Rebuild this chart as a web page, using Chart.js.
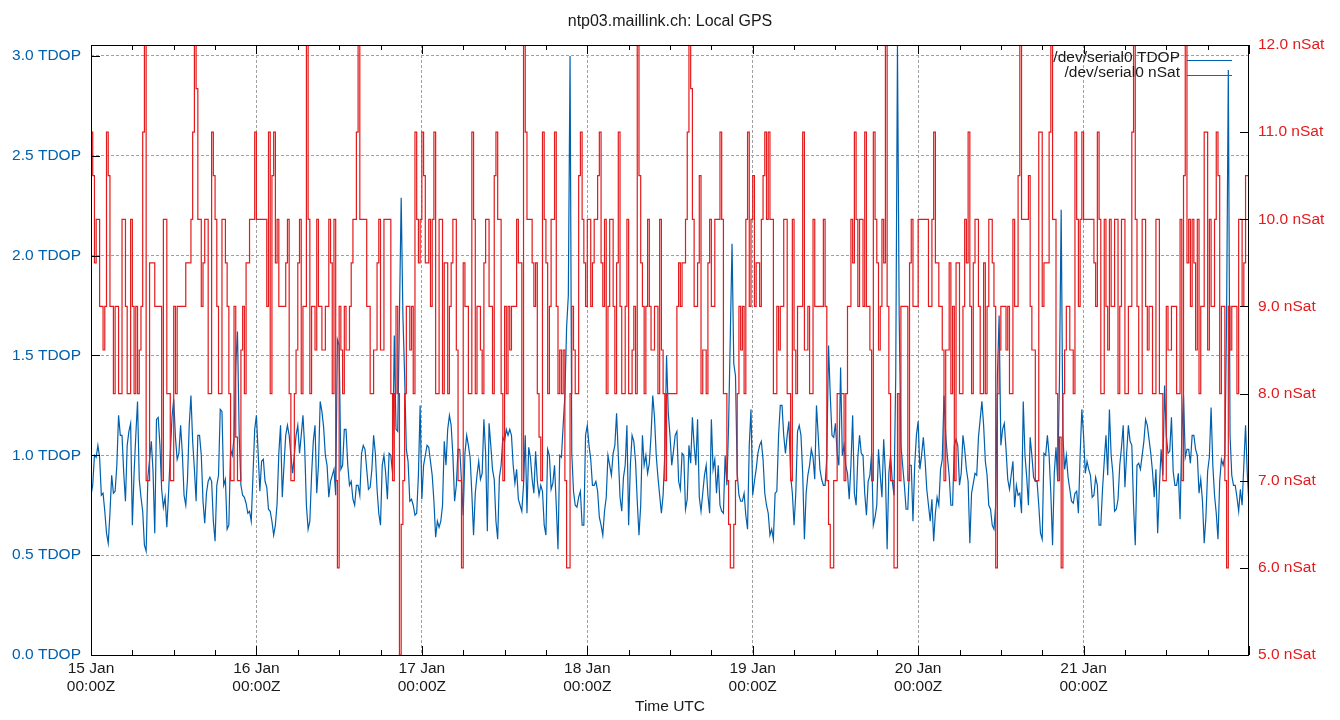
<!DOCTYPE html>
<html lang="en">
<head>
    <meta charset="UTF-8">
    <title>ntp03.maillink.ch: Local GPS</title>
    <script src="https://cdn.jsdelivr.net/npm/chart.js"></script>
    <style>
        body {
            margin: 0;
            background-color: #ffffff;
        }
        .chart-box {
            width: 1340px;
            height: 720px;
            position: relative;
        }
    </style>
</head>
<body>

<div class="chart-box">
    <canvas id="gpsChart"></canvas>
</div>

<script>
    // samples from 15 Jan 00:00Z; main arrays at :00/:30, "Quarter" arrays at :15/:45
    const stepHours = 0.5;
    const dayLabels = ["15 Jan", "16 Jan", "17 Jan", "18 Jan", "19 Jan", "20 Jan", "21 Jan"];

    const tdop = [
        0.8, 1.0, 1.05, 0.8, 0.72, 0.56, 0.9, 0.82, 1.2, 1.1, 0.77, 1.12, 0.65, 1.1, 0.88, 0.72, 0.52, 0.98, 0.92, 1.18, 1.05, 0.74, 0.64, 1.0, 1.28, 0.98, 1.15, 0.8, 0.88, 1.3, 0.93,
        1.1, 1.0, 0.66, 0.87, 0.87, 0.57, 0.9, 1.22, 0.88, 0.65, 1.0, 1.45, 1.1, 0.8, 0.76, 0.72, 0.9, 1.2, 0.82, 0.98, 0.84, 0.72, 0.6, 0.76, 1.15, 0.95, 1.15, 1.0, 1.0, 1.15, 1.1,
        1.04, 0.63, 0.9, 1.15, 0.95, 1.22, 1.0, 0.79, 0.9, 0.8, 1.55, 0.95, 1.13, 0.85, 0.78, 0.85, 0.8, 1.05, 0.93, 0.84, 1.1, 0.83, 0.65, 1.0, 0.78, 1.0, 1.6, 1.12, 2.29, 1.4, 0.97, 0.78,
        0.7, 0.9, 0.78, 1.0, 1.04, 0.9, 0.59, 0.64, 0.75, 0.95, 1.2, 1.0, 0.85, 1.03, 0.7, 1.1, 0.99, 0.6, 0.9, 0.88, 1.18, 0.62, 1.05, 0.88, 0.58, 0.95, 1.07, 1.1, 1.1, 0.86, 0.78,
        0.72, 1.1, 1.04, 0.88, 1.02, 0.8, 0.82, 0.6, 1.0, 0.86, 0.75, 1.0, 1.15, 1.64, 3.0, 0.82, 0.74, 0.82, 0.65, 1.15, 0.98, 0.85, 0.82, 0.65, 0.72, 1.0, 0.9, 1.05, 1.0, 0.72, 0.95,
        0.65, 1.1, 0.97, 0.6, 1.1, 1.0, 0.96, 1.3, 1.0, 0.8, 0.8, 1.5, 1.1, 1.02, 1.12, 0.83, 1.0, 0.78, 0.96, 1.05, 1.18, 0.72, 0.9, 0.8, 1.18, 0.98, 0.95, 0.72, 1.0, 1.15, 2.06, 1.4,
        0.8, 0.77, 0.7, 1.05, 0.8, 0.93, 1.05, 0.98, 0.75, 0.6, 0.58, 0.82, 1.25, 1.1, 1.1, 0.9, 0.65, 1.12, 1.1, 0.58, 0.9, 1.03, 0.88, 1.1, 0.88, 0.85, 1.55, 1.1, 1.16, 0.95, 1.0,
        0.95, 0.78, 1.2, 0.75, 1.1, 1.0, 0.7, 0.9, 0.65, 0.75, 0.9, 1.08, 0.53, 1.0, 0.8, 3.05, 1.05, 0.85, 0.73, 0.95, 0.95, 1.17, 1.0, 0.98, 0.75, 0.78, 0.71, 0.75, 0.98, 1.1, 0.9,
        0.75, 1.08, 0.85, 1.1, 0.93, 0.56, 0.86, 0.9, 1.18, 1.15, 0.9, 0.73, 0.63, 1.4, 1.05, 1.16, 0.88, 0.9, 0.74, 0.8, 0.71, 1.0, 0.75, 1.0, 0.87, 0.75, 0.58, 1.0, 1.0, 0.55, 1.04,
        1.38, 1.1, 1.0, 0.83, 0.76, 0.82, 1.0, 1.1, 0.97, 0.9, 0.8, 0.85, 0.65, 0.97, 0.9, 1.0, 0.72, 0.78, 1.04, 0.84, 1.15, 1.05, 0.55, 0.96, 1.0, 1.18, 1.08, 0.92, 0.93, 0.84, 0.9, 1.1,
        1.02, 0.92, 0.85, 0.68, 1.3, 1.03, 0.96, 1.1, 1.0, 0.88, 0.56, 0.92, 1.24, 0.8, 0.58, 0.98, 1.0, 2.93, 0.9, 0.85, 0.72, 0.75, 1.15, 0.75
    ];
    const tdopQuarter = [
        0.85, 0.99, 0.99, 0.81, 0.61, 0.71, 0.81, 0.95, 1.1, 0.91, 1.05, 1.16, 0.91, 1.27, 0.79, 0.55, 0.89, 1.07, 0.61, 1.19, 0.83, 0.79, 0.81, 1.19, 1.09, 1.01, 1.01, 0.75, 1.15, 1.07, 0.77,
        1.1, 0.77, 0.81, 0.89, 0.67, 0.85, 1.23, 0.85, 0.63, 1.03, 1.09, 1.62, 0.85, 0.79, 0.71, 0.67, 1.13, 1.01, 0.97, 0.87, 0.73, 0.67, 0.65, 1.01, 0.79, 1.1, 1.1, 0.91, 1.1, 1.01, 1.2,
        0.75, 0.67, 1.07, 0.81, 1.27, 1.14, 0.95, 0.87, 0.93, 1.58, 0.93, 1.13, 0.95, 0.87, 0.75, 0.85, 1.01, 1.03, 0.83, 0.93, 1.01, 0.71, 0.95, 0.91, 1.01, 0.91, 1.13, 1.7, 1.7, 1.03, 0.77, 0.75,
        0.71, 1.25, 0.95, 1.05, 0.97, 0.77, 0.67, 0.67, 1.07, 1.13, 1.15, 0.77, 1.03, 0.87, 1.01, 1.05, 0.81, 0.81, 0.97, 0.91, 1.01, 1.16, 0.93, 0.67, 0.89, 1.09, 1.13, 1.13, 0.95, 0.93, 0.75,
        0.85, 0.71, 0.99, 0.81, 0.87, 0.85, 0.65, 1.03, 0.83, 0.95, 0.53, 0.99, 1.3, 1.8, 1.01, 0.75, 0.79, 0.65, 1.1, 1.05, 0.85, 0.87, 0.69, 0.6, 0.79, 0.95, 1.01, 1.21, 0.79, 0.89, 1.15,
        0.95, 1.07, 0.77, 0.75, 0.95, 0.91, 1.1, 1.19, 0.89, 0.71, 1.01, 1.21, 0.95, 1.1, 0.87, 1.01, 0.73, 1.05, 1.19, 0.95, 0.79, 0.81, 0.95, 0.71, 0.93, 0.81, 0.75, 0.71, 0.85, 1.6, 1.46, 0.91,
        0.77, 0.81, 0.63, 1.23, 0.87, 1.01, 1.07, 0.81, 0.71, 0.63, 0.81, 1.1, 1.25, 1.01, 1.17, 0.81, 0.81, 1.15, 0.91, 0.81, 0.95, 0.99, 1.25, 0.93, 0.85, 0.99, 1.3, 1.09, 1.01, 1.44, 1.05,
        0.91, 0.95, 0.81, 0.99, 1.01, 0.81, 0.87, 1.01, 0.69, 1.03, 0.79, 0.91, 0.91, 0.87, 1.4, 1.7, 0.95, 0.73, 0.95, 0.67, 1.1, 0.93, 1.09, 0.83, 0.67, 0.57, 0.79, 0.93, 1.3, 0.99, 0.75,
        1.05, 1.05, 0.91, 1.03, 0.87, 0.81, 0.91, 1.09, 1.27, 0.97, 0.75, 0.65, 0.75, 1.7, 1.13, 1.03, 0.83, 0.97, 0.85, 0.81, 1.27, 0.89, 1.09, 0.89, 0.87, 0.61, 1.01, 1.1, 0.81, 0.91, 0.87,
        2.23, 0.93, 0.89, 0.77, 0.81, 0.71, 1.23, 0.91, 0.93, 0.79, 0.89, 0.65, 0.83, 1.1, 1.23, 0.91, 0.73, 0.95, 1.15, 1.01, 1.07, 0.75, 0.95, 0.93, 1.07, 1.15, 1.01, 0.79, 0.61, 1.03, 1.35, 1.01,
        1.19, 0.85, 0.91, 1.1, 0.99, 1.03, 1.1, 1.03, 0.81, 0.77, 0.69, 0.99, 0.95, 0.71, 0.87, 0.95, 1.7, 1.1, 0.85, 0.79, 0.83, 0.95, 0.91
    ];

    const nSat = [
        10, 10.5, 10, 9, 8.5, 11, 9, 8, 9, 8, 10, 8, 10, 8, 8, 9, 12, 7, 9.5, 9, 9, 7, 10, 8, 7, 8, 9, 9, 9.5, 9.5, 11,
        11.5, 10, 9.5, 10, 8, 10.5, 9, 8, 10, 9, 7, 9, 7, 8.5, 8, 9.5, 10, 11, 10, 10, 10, 11, 10.5, 9.5, 9, 9, 9.5, 8, 7, 8.5, 10,
        9, 12, 8, 9, 10, 9, 8.5, 9, 9.5, 10, 6, 8.5, 9, 8.5, 9.5, 10, 12, 10, 10, 9, 8, 8.5, 10, 8.5, 10, 10, 7, 9, 5, 7, 9, 8.5,
        8, 10, 10, 10.5, 9.5, 9, 11, 8, 10, 9.5, 8, 9.5, 10, 7, 6, 9, 8, 11, 8, 9, 8, 10, 9, 8, 11, 10, 7, 8, 8.5, 9, 10,
        9.5, 12, 10, 10, 9, 8, 7, 10, 8, 10, 11, 8, 8, 7, 6, 9, 8, 10.5, 10, 9, 10, 9.5, 10, 11, 9, 8, 10, 9, 9.5, 9, 8,
        10, 8, 9, 12, 9.5, 8, 10, 8.5, 9, 8, 8.5, 7, 8, 8, 8, 9.5, 9.5, 10, 12, 10, 9, 10.5, 8.5, 8, 10, 9, 10, 11, 8, 7, 6, 6.5,
        8, 8.5, 8, 11, 10, 9, 9.5, 10, 11, 11, 10, 8, 8.5, 9, 10, 8, 10, 8, 9, 11, 8.5, 8, 10, 9, 9, 10, 7, 6, 7, 8, 8,
        7, 9, 10, 11, 9, 10, 11, 9, 7, 10, 8.5, 10, 12, 8, 7, 6, 7, 9, 9, 9.5, 9, 9, 10, 10, 10, 9, 11, 9.5, 9, 7, 8.5,
        8, 7, 9.5, 8, 10, 11, 8, 10, 9, 8, 8, 10, 9.5, 6, 8.5, 9, 8.5, 8, 10, 9, 12, 10, 10, 9, 8.5, 7, 11, 9.5, 9.5, 12, 10,
        7, 6, 8.5, 9, 8.5, 11, 9, 11, 10, 10, 10, 9, 10, 8, 9, 10, 9, 10, 9, 10, 8, 9, 12, 9, 8, 10, 8.5, 9, 8, 10, 8, 7,
        8.5, 9, 9, 8, 7, 12, 10, 10, 8.5, 8, 9, 11, 10, 9, 11, 8, 9, 6, 8.5, 9, 8, 10, 9.5, 10.5
    ];
    const nSatQuarter = [
        11, 9.5, 10, 9, 9, 10.5, 9, 9, 8, 10, 9, 8, 9, 9, 8.5, 11, 7, 9.5, 9.5, 9, 9, 10, 8, 7, 9, 9, 9, 9, 9.5, 10, 12,
        10, 9, 10, 8, 11, 10, 8, 10, 9.5, 8, 7, 7.5, 7, 9, 9.5, 10, 10, 10, 10, 10, 9, 8, 11, 10, 9, 9, 10, 7, 8, 9.5, 8,
        9, 10, 9, 8.5, 9, 8.5, 9, 10, 8, 7, 9, 8, 8.5, 9, 10, 11, 10, 10, 9, 8, 8.5, 9.5, 8.5, 10, 10, 8, 8, 8, 6.5, 8, 9, 9,
        11, 9.5, 11, 9.5, 10, 10, 8, 10, 8, 9.5, 9, 10, 8.5, 7, 9.5, 9, 8, 10, 9, 8.5, 9.5, 10, 9, 10.5, 10, 8, 9, 9, 9, 9, 9.5,
        7, 11, 10, 9.5, 9.5, 7.5, 11, 9.5, 9, 10, 9, 8.5, 8.5, 6, 8, 8.5, 8, 11, 9.5, 10, 9, 10, 10.5, 9.5, 10, 9, 10, 8, 11, 8, 9,
        8, 8.5, 8, 10.5, 9, 9, 9, 8.5, 9, 10, 8, 8, 8, 8, 9, 9, 9.5, 11, 11.5, 9, 9.5, 8, 8.5, 9.5, 9, 10, 10, 10, 8, 6.5, 6, 7,
        9, 9, 10, 9, 10.5, 9.5, 9, 10.5, 10, 10, 8, 9, 9, 10, 8, 7, 8.5, 9, 9, 8.5, 9, 8, 9, 9, 9, 9, 6.5, 6, 7, 8, 8,
        8, 9, 9.5, 10, 10, 9, 9, 8.5, 11, 9.5, 9, 9.5, 9, 7, 6, 8, 9, 9, 7, 10, 9, 10, 10, 10, 9, 10, 9.5, 9, 8.5, 8.5, 9.5,
        9, 9.5, 8, 9, 9.5, 9, 9.5, 10, 8, 9.5, 9, 10, 9, 8, 9, 9, 9, 8, 9, 10.5, 10, 10, 10.5, 8.5, 7, 11, 9, 9.5, 11, 10, 8,
        7.5, 8, 9, 8.5, 8, 10, 10, 10, 10, 10, 9.5, 11, 8, 10, 8.5, 9, 10, 8, 10, 8, 9, 11, 10, 8, 10, 9, 9, 8, 10, 8, 7, 9,
        8.5, 9, 8, 10, 10.5, 9.5, 9, 9.5, 10, 9, 11, 8.5, 9, 10, 10.5, 9, 7, 9, 9, 9, 10, 9, 10.5
    ];

    const seriesNames = ["/dev/serial0 TDOP", "/dev/serial0 nSat"];
    const blue = "#0060ad";
    const red = "#e41a1c";
    const fontFamily = "'Liberation Sans', Arial, sans-serif";

    // put the half hour and quarter past samples back in time order
    function toPoints(onHalf, onQuarter) {
        const pts = [];
        onHalf.forEach((v, i) => {
            pts.push({ x: i * stepHours, y: v });
            if (i < onQuarter.length) {
                pts.push({ x: i * stepHours + stepHours / 2, y: onQuarter[i] });
            }
        });
        return pts;
    }

    // gnuplot style frame: inward ticks on all sides, plus the key in the top right
    const gnuFrame = {
        id: "gnuFrame",
        afterDraw(chart) {
            const { ctx, chartArea: a, scales } = chart;
            ctx.save();
            ctx.strokeStyle = "#000";
            ctx.lineWidth = 1;
            ctx.beginPath();
            for (let h = scales.x.min; h <= scales.x.max; h += 6) {
                const px = Math.round(scales.x.getPixelForValue(h)) + 0.5;
                const len = h % 24 === 0 ? 9 : 5;
                ctx.moveTo(px, a.bottom);
                ctx.lineTo(px, a.bottom - len);
                ctx.moveTo(px, a.top);
                ctx.lineTo(px, a.top + len);
            }
            scales.y.ticks.forEach(t => {
                const py = Math.round(scales.y.getPixelForValue(t.value)) + 0.5;
                ctx.moveTo(a.left, py);
                ctx.lineTo(a.left + 9, py);
            });
            scales.y2.ticks.forEach(t => {
                const py = Math.round(scales.y2.getPixelForValue(t.value)) + 0.5;
                ctx.moveTo(a.right, py);
                ctx.lineTo(a.right - 9, py);
            });
            ctx.stroke();
            ctx.strokeRect(a.left + 0.5, a.top + 0.5, a.right - a.left - 1, a.bottom - a.top);

            // key
            ctx.font = "15.5px " + fontFamily;
            ctx.textAlign = "right";
            ctx.textBaseline = "middle";
            const keyColors = [blue, red];
            seriesNames.forEach((name, i) => {
                const y = 58 + i * 15;
                ctx.fillStyle = "#1a1a1a";
                ctx.fillText(name, 1180, y);
                ctx.beginPath();
                ctx.strokeStyle = keyColors[i];
                ctx.lineWidth = 1.2;
                ctx.moveTo(1187, y + 2.5);
                ctx.lineTo(1232, y + 2.5);
                ctx.stroke();
            });
            ctx.restore();
        }
    };

    const ctx = document.getElementById("gpsChart").getContext("2d");
    new Chart(ctx, {
        type: "line",
        data: {
            datasets: [
                {
                    label: seriesNames[0],
                    data: toPoints(tdop, tdopQuarter),
                    yAxisID: "y",
                    borderColor: blue,
                    borderWidth: 1.2,
                    pointRadius: 0,
                    tension: 0,
                    order: 1
                },
                {
                    label: seriesNames[1],
                    data: toPoints(nSat, nSatQuarter),
                    yAxisID: "y2",
                    borderColor: red,
                    borderWidth: 1.2,
                    pointRadius: 0,
                    stepped: "after",
                    order: 0
                }
            ]
        },
        options: {
            responsive: true,
            maintainAspectRatio: false,
            animation: false,
            layout: { padding: 0 },
            plugins: {
                legend: { display: false },
                tooltip: { enabled: false },
                title: {
                    display: true,
                    text: "ntp03.maillink.ch: Local GPS",
                    color: "#1a1a1a",
                    font: { family: fontFamily, size: 16, weight: "normal" },
                    padding: { top: 12, bottom: 13.8 }
                }
            },
            scales: {
                x: {
                    type: "linear",
                    min: 0,
                    max: dayLabels.length * 24,
                    afterFit: s => { s.height = 65; },
                    border: { display: false, dash: [3, 2] },
                    grid: { color: "#a0a0a0", drawTicks: false, borderDash: [3, 2] },
                    ticks: {
                        stepSize: 24,
                        autoSkip: false,
                        maxRotation: 0,
                        padding: 4,
                        color: "#1a1a1a",
                        font: { family: fontFamily, size: 15.5 },
                        callback: v => (v % 24 === 0 && v / 24 < dayLabels.length) ? [dayLabels[v / 24], "00:00Z"] : null
                    },
                    title: {
                        display: true,
                        text: "Time UTC",
                        color: "#1a1a1a",
                        font: { family: fontFamily, size: 15.5 },
                        padding: { top: 0, bottom: 4 }
                    }
                },
                y: {
                    position: "left",
                    min: 0,
                    max: 3.055,
                    afterFit: s => { s.width = 91; },
                    border: { display: false, dash: [3, 2] },
                    grid: { color: "#a0a0a0", drawTicks: false, borderDash: [3, 2] },
                    ticks: {
                        stepSize: 0.5,
                        includeBounds: false,
                        padding: 10,
                        color: blue,
                        font: { family: fontFamily, size: 15.5 },
                        callback: v => v.toFixed(1) + " TDOP"
                    }
                },
                y2: {
                    position: "right",
                    min: 5,
                    max: 12,
                    afterFit: s => { s.width = 91; },
                    border: { display: false },
                    grid: { drawOnChartArea: false, drawTicks: false },
                    ticks: {
                        stepSize: 1,
                        padding: 9,
                        color: red,
                        font: { family: fontFamily, size: 15.5 },
                        callback: v => v.toFixed(1) + " nSat"
                    }
                }
            }
        },
        plugins: [gnuFrame]
    });
</script>

</body>
</html>
